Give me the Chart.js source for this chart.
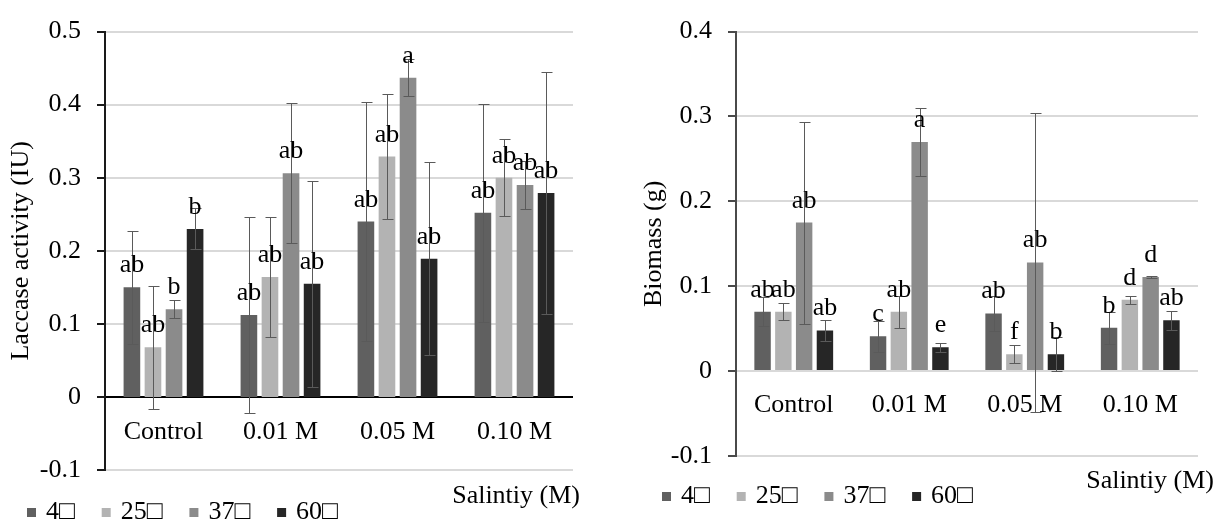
<!DOCTYPE html>
<html>
<head>
<meta charset="utf-8">
<script src="https://cdn.jsdelivr.net/npm/chart.js@4.4.1/dist/chart.umd.min.js"></script>
<style>
  body { margin: 0; background: #fff; width: 1220px; height: 525px; overflow: hidden; position: relative; }
  #laccase { position: absolute; left: 0; top: 0; }
  #biomass { position: absolute; left: 620px; top: 0; }
</style>
</head>
<body>
<canvas id="laccase" width="620" height="525"></canvas>
<canvas id="biomass" width="600" height="525"></canvas>
<script>
const categories = ['Control', '0.01 M', '0.05 M', '0.10 M'];
const temps = ['4□', '25□', '37□', '60□'];
const colors = ['#606060', '#b3b3b3', '#8b8b8b', '#262626'];

// laccase activity (IU), one array per temperature
const lac4 = [0.150, 0.112, 0.240, 0.252];
const lac25 = [0.068, 0.164, 0.329, 0.300];
const lac37 = [0.120, 0.306, 0.437, 0.290];
const lac60 = [0.230, 0.155, 0.189, 0.279];
const lacErr4 = [0.077, 0.134, 0.163, 0.149];
const lacErr25 = [0.084, 0.082, 0.085, 0.053];
const lacErr37 = [0.012, 0.096, 0.025, 0.033];
const lacErr60 = [0.028, 0.141, 0.132, 0.166];
const lacTag4 = ['ab', 'ab', 'ab', 'ab'];
const lacTag25 = ['ab', 'ab', 'ab', 'ab'];
const lacTag37 = ['b', 'ab', 'a', 'ab'];
const lacTag60 = ['b', 'ab', 'ab', 'ab'];

// biomass (g)
const bio4 = [0.070, 0.041, 0.068, 0.051];
const bio25 = [0.070, 0.070, 0.020, 0.084];
const bio37 = [0.175, 0.270, 0.128, 0.111];
const bio60 = [0.048, 0.028, 0.020, 0.060];
const bioErr4 = [0.017, 0.018, 0.021, 0.019];
const bioErr25 = [0.010, 0.019, 0.011, 0.005];
const bioErr37 = [0.119, 0.040, 0.176, 0.001];
const bioErr60 = [0.012, 0.005, 0.020, 0.011];
const bioTag4 = ['ab', 'c', 'ab', 'b'];
const bioTag25 = ['ab', 'ab', 'f', 'd'];
const bioTag37 = ['ab', 'a', 'ab', 'd'];
const bioTag60 = ['ab', 'e', 'b', 'ab'];

const FONT = '"Liberation Serif", "Times New Roman", serif';
Chart.defaults.font.family = FONT;
Chart.defaults.font.size = 26;
Chart.defaults.color = '#000';

const isZero = v => Math.abs(v) < 1e-9;

// error bars, letters over bars, hand drawn legend and the axis note
const decor = {
  id: 'decor',
  afterDatasetsDraw(chart, args, o) {
    const ctx = chart.ctx, y = chart.scales.y;
    ctx.save();
    ctx.strokeStyle = '#5a5a5a';
    ctx.lineWidth = 1;
    chart.data.datasets.forEach((ds, i) => {
      chart.getDatasetMeta(i).data.forEach((bar, j) => {
        const v = ds.data[j], e = o.errors[i][j];
        const x = Math.round(bar.x) + 0.5;
        const top = Math.round(y.getPixelForValue(v + e)) + 0.5;
        const bot = Math.round(y.getPixelForValue(v - e)) + 0.5;
        ctx.beginPath();
        ctx.moveTo(x, top); ctx.lineTo(x, bot);
        ctx.moveTo(x - 5, top); ctx.lineTo(x + 6, top);
        ctx.moveTo(x - 5, bot); ctx.lineTo(x + 6, bot);
        ctx.stroke();
      });
    });
    ctx.font = '26px ' + FONT;
    ctx.fillStyle = '#000';
    ctx.textAlign = 'center';
    ctx.textBaseline = 'alphabetic';
    chart.data.datasets.forEach((ds, i) => {
      chart.getDatasetMeta(i).data.forEach((bar, j) => {
        ctx.fillText(o.tags[i][j], bar.x, bar.y - 15);
      });
    });
    ctx.restore();
  },
  afterDraw(chart, args, o) {
    const ctx = chart.ctx;
    ctx.save();
    ctx.font = '26px ' + FONT;
    ctx.textBaseline = 'alphabetic';
    ctx.textAlign = 'left';
    let x = o.legendX;
    chart.data.datasets.forEach(ds => {
      ctx.fillStyle = ds.backgroundColor;
      ctx.fillRect(x, o.legendY - 11, 9, 9);
      ctx.fillStyle = '#000';
      ctx.fillText(ds.label, x + 19, o.legendY);
      x += 19 + ctx.measureText(ds.label).width + 27;
    });
    ctx.textAlign = 'right';
    ctx.fillText(o.note, o.noteX, o.noteY);
    ctx.restore();
  }
};

function makeChart(id, series, errors, tags, setup) {
  return new Chart(document.getElementById(id), {
    type: 'bar',
    data: {
      labels: categories,
      datasets: series.map((d, i) => ({
        label: temps[i],
        data: d,
        backgroundColor: colors[i],
        borderWidth: 0,
        categoryPercentage: 0.72,
        barPercentage: 0.79
      }))
    },
    options: {
      responsive: false,
      animation: false,
      layout: { padding: setup.padding },
      plugins: {
        legend: { display: false },
        tooltip: { enabled: false },
        decor: {
          errors: errors, tags: tags,
          legendX: setup.legendX, legendY: setup.legendY,
          note: 'Salintiy (M)', noteX: setup.noteX, noteY: setup.noteY
        }
      },
      scales: {
        x: {
          position: { y: 0 },
          grid: { display: false, drawTicks: false },
          border: { display: false },
          ticks: { padding: setup.xPad, color: '#000' }
        },
        y: {
          min: setup.min, max: setup.max,
          afterFit: s => { s.width = setup.axisWidth; },
          ticks: {
            stepSize: 0.1, padding: 16, color: '#000',
            callback: v => isZero(v) ? '0' : (Math.round(v * 10) / 10).toString()
          },
          grid: {
            color: c => (setup.zeroBlack && c.tick && isZero(c.tick.value)) ? '#000' : '#d9d9d9',
            lineWidth: 2,
            tickLength: 8,
            tickColor: setup.axisColor
          },
          border: { color: setup.axisColor, width: 2 },
          title: { display: true, text: setup.title, padding: { top: setup.titlePad, bottom: 0 } }
        }
      }
    },
    plugins: [decor]
  });
}

makeChart('laccase',
  [lac4, lac25, lac37, lac60],
  [lacErr4, lacErr25, lacErr37, lacErr60],
  [lacTag4, lacTag25, lacTag37, lacTag60],
  {
    padding: { left: 0, right: 47, top: 20, bottom: 55 },
    axisWidth: 105, min: -0.1, max: 0.5, zeroBlack: true, axisColor: '#1a1a1a',
    title: 'Laccase activity (IU)', titlePad: 6, xPad: 20,
    legendX: 27, legendY: 519, noteX: 580, noteY: 503
  });

makeChart('biomass',
  [bio4, bio25, bio37, bio60],
  [bioErr4, bioErr25, bioErr37, bioErr60],
  [bioTag4, bioTag25, bioTag37, bioTag60],
  {
    padding: { left: 0, right: 22, top: 15, bottom: 69 },
    axisWidth: 116, min: -0.1, max: 0.4, zeroBlack: false, axisColor: '#4a4a4a',
    title: 'Biomass (g)', titlePad: 19, xPad: 18,
    legendX: 42, legendY: 503, noteX: 594, noteY: 488
  });
</script>
</body>
</html>
